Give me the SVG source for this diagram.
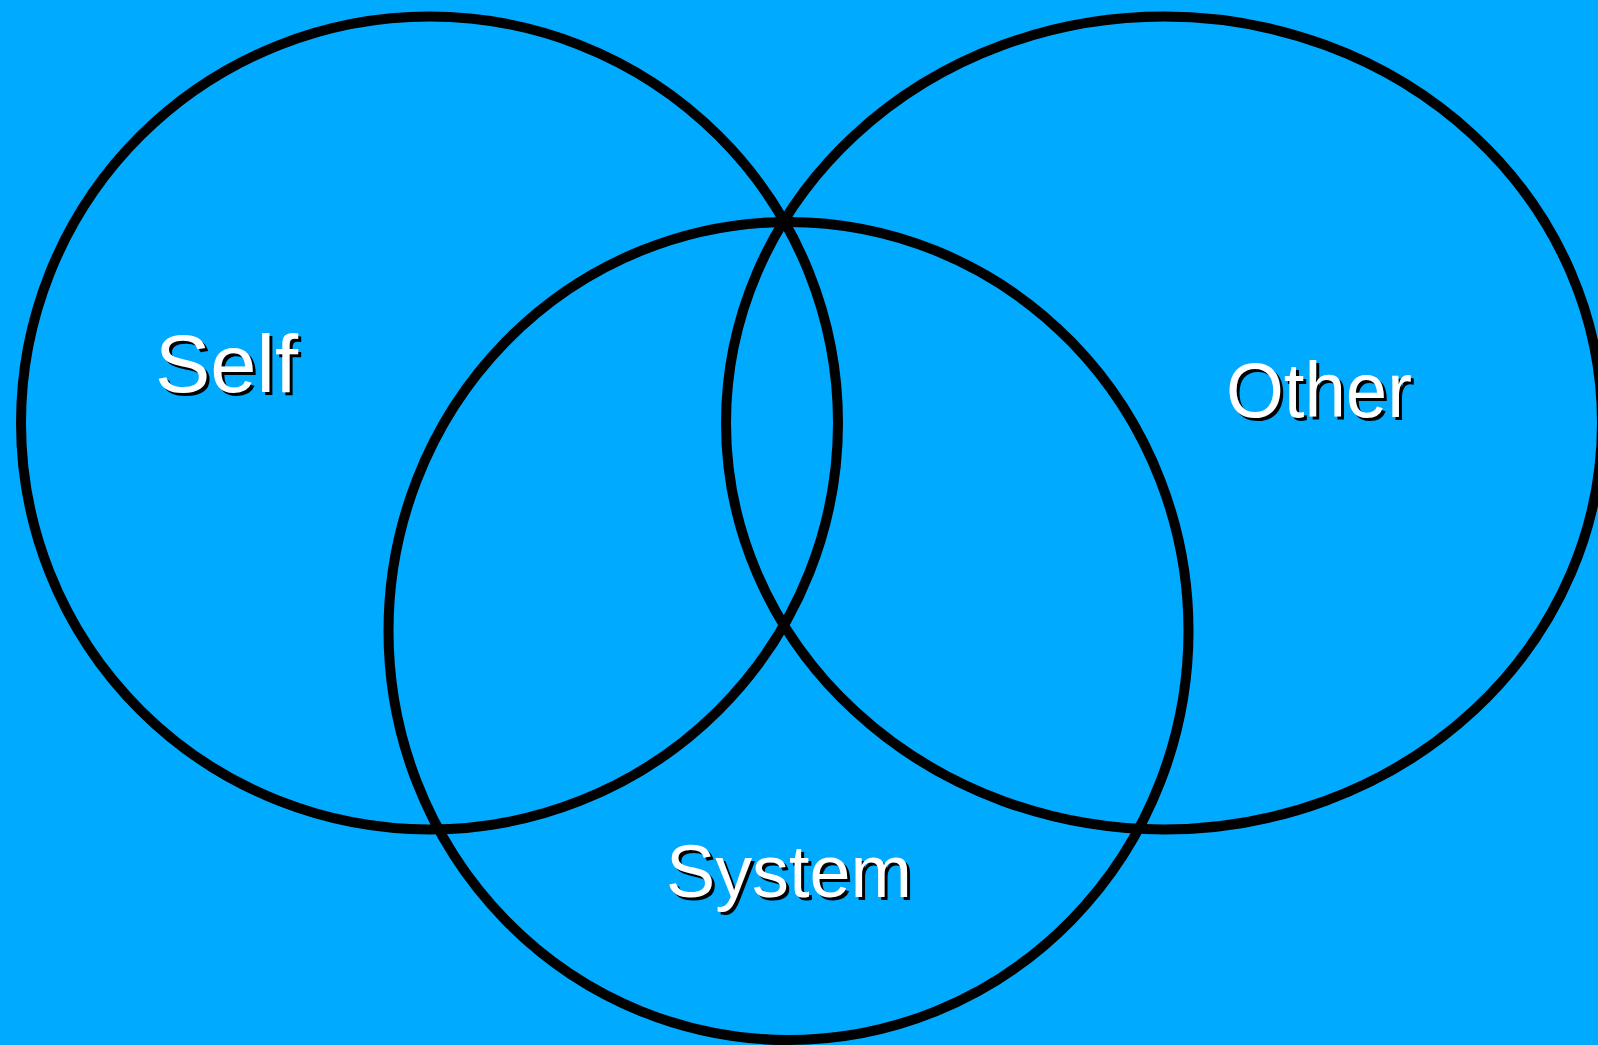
<svg xmlns="http://www.w3.org/2000/svg" width="1598" height="1045" viewBox="0 0 1598 1045">
<style>
.ring{fill:none;stroke:#000;stroke-width:10}
.lbl{font-family:"Liberation Sans",Arial,sans-serif}
.sh{fill:#000}
.fg{fill:#fff}
</style>
<rect width="1598" height="1045" fill="#00aaff"/>
<g id="self">
<ellipse class="ring" cx="429.5" cy="423" rx="408.5" ry="406.5"/>
<text class="lbl sh" x="158" y="395" font-size="82" textLength="143" lengthAdjust="spacingAndGlyphs">Self</text>
<text class="lbl fg" x="155" y="392" font-size="82" textLength="143" lengthAdjust="spacingAndGlyphs">Self</text>
</g>
<g id="other">
<ellipse class="ring" cx="1164" cy="423" rx="438" ry="406.5"/>
<text class="lbl sh" x="1229" y="420" font-size="77" textLength="186" lengthAdjust="spacingAndGlyphs">Other</text>
<text class="lbl fg" x="1226" y="417" font-size="77" textLength="186" lengthAdjust="spacingAndGlyphs">Other</text>
</g>
<g id="system">
<ellipse class="ring" cx="788.5" cy="631" rx="400" ry="409"/>
<text class="lbl sh" x="669" y="900" font-size="75" textLength="246" lengthAdjust="spacingAndGlyphs">System</text>
<text class="lbl fg" x="666" y="897" font-size="75" textLength="246" lengthAdjust="spacingAndGlyphs">System</text>
</g>
<g id="connectors"/>
</svg>
